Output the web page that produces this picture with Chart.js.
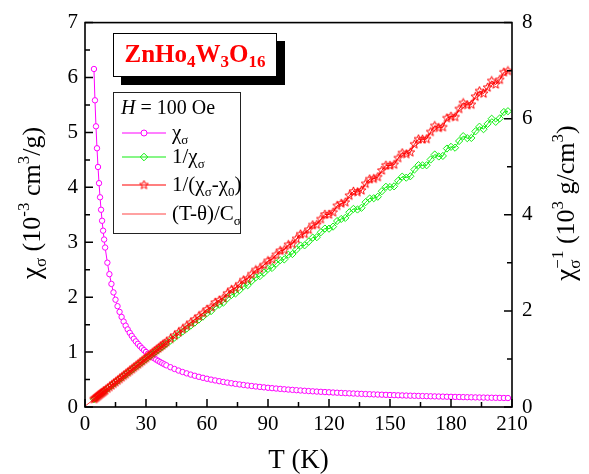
<!DOCTYPE html>
<html>
<head>
<meta charset="utf-8">
<script src="https://cdn.jsdelivr.net/npm/chart.js@4.4.1/dist/chart.umd.min.js"></script>
<style>
  html, body { margin: 0; padding: 0; background: #fff; }
  #wrap { width: 589px; height: 474px; position: relative; }
</style>
</head>
<body>
<div id="wrap"><canvas id="c"></canvas></div>
<script>
// temperature (K)
const T = [4.4,4.9,5.4,5.9,6.4,6.9,7.4,7.9,8.4,8.9,9.4,9.9,
  11,12,13,14,15,16,17,18,19,20,21,22,23,24,25,26,27,28,29,30,31,32,33,34,35,36,37,38,39,40,
  42,44,46,48,50,52,54,56,58,60,62,64,66,68,70,72,74,76,78,80,82,84,86,88,90,92,94,96,98,100,
  102,104,106,108,110,112,114,116,118,120,122,124,126,128,130,132,134,136,138,140,142,144,146,148,150,
  152,154,156,158,160,162,164,166,168,170,172,174,176,178,180,182,184,186,188,190,192,194,196,198,200,
  202,204,206,208];

// chi_sigma (10^-3 cm3/g), left axis
const chi = [6.155,5.585,5.111,4.712,4.371,4.076,3.819,3.592,3.391,3.211,3.050,2.904,
  2.628,2.419,2.241,2.087,1.954,1.836,1.732,1.640,1.556,1.481,1.413,1.351,1.295,1.243,1.195,1.150,1.109,1.071,1.035,1.002,
  0.971,0.941,0.914,0.888,0.863,0.840,0.818,0.798,0.778,0.759,
  0.7243,0.6926,0.6636,0.6371,0.6126,0.5900,0.5691,0.5496,0.5315,0.5145,0.4987,0.4838,0.4699,0.4567,0.4443,0.4326,
  0.4215,0.4110,0.4010,0.3915,0.3825,0.3739,0.3657,0.3579,0.3504,0.3432,0.3364,0.3298,0.3235,0.3175,0.3117,0.3061,
  0.3007,0.2955,0.2905,0.2857,0.2810,0.2765,0.2722,0.2680,0.2639,0.2600,0.2562,0.2525,0.2490,0.2455,0.2421,0.2389,
  0.2357,0.2326,0.2296,0.2267,0.2239,0.2211,0.2185,0.2159,0.2133,0.2108,0.2084,0.2061,0.2038,0.2015,0.1993,0.1972,
  0.1951,0.1931,0.1911,0.1892,0.1873,0.1854,0.1836,0.1818,0.1801,0.1784,0.1767,0.1751,0.1735,0.1719,0.1703,0.1688,
  0.1674,0.1659,0.1645,0.1631];

// 1/chi_sigma (10^3 g/cm3), right axis
const invChi = [0.162,0.179,0.196,0.212,0.229,0.245,0.262,0.278,0.295,0.311,0.328,0.344,
  0.381,0.413,0.446,0.479,0.512,0.545,0.577,0.610,0.643,0.675,0.708,0.740,0.772,0.805,0.837,0.869,0.901,0.934,0.966,0.998,
  1.030,1.062,1.094,1.126,1.158,1.190,1.222,1.253,1.285,1.317,
  1.381,1.444,1.507,1.570,1.632,1.695,1.757,1.820,1.881,
  1.954,1.995,2.087,2.128,2.170,2.261,2.332,2.362,2.433,2.514,2.534,2.624,2.699,2.724,2.794,2.874,2.894,2.983,3.057,3.071,
  3.170,3.183,3.277,3.361,3.364,3.442,3.525,3.534,3.637,3.714,3.711,3.754,3.871,3.913,3.935,4.051,4.123,4.110,4.146,4.263,
  4.339,4.345,4.376,4.491,4.583,4.577,4.592,4.708,4.794,4.773,4.802,4.942,5.033,5.028,5.031,5.151,5.254,5.213,5.225,5.379,
  5.414,5.397,5.536,5.637,5.595,5.599,5.736,5.834,5.782,5.892,5.999,5.934,6.008,6.139,6.156];

// 1/(chi_sigma - chi_0), right axis
const invChiCorr = [0.163,0.180,0.196,0.213,0.230,0.246,0.263,0.280,0.297,0.313,0.330,0.347,
  0.383,0.417,0.450,0.484,0.517,0.550,0.584,0.617,0.651,0.684,0.717,0.751,0.784,0.818,0.851,0.884,0.918,0.951,0.985,1.018,
  1.051,1.085,1.118,1.152,1.185,1.218,1.252,1.285,1.319,1.352,
  1.419,1.486,1.552,1.619,1.686,1.753,1.820,1.886,1.953,
  2.030,2.077,2.174,2.220,2.267,2.364,2.441,2.478,2.554,2.641,2.668,2.765,2.852,2.878,2.955,3.042,3.069,3.166,3.252,3.269,
  3.376,3.393,3.500,3.596,3.603,3.690,3.787,3.794,3.910,4.007,4.004,4.051,4.188,4.234,4.261,4.398,4.485,4.472,4.508,4.645,
  4.742,4.749,4.786,4.922,5.029,5.026,5.043,5.180,5.286,5.263,5.300,5.467,5.574,5.570,5.577,5.724,5.851,5.808,5.824,6.011,
  6.048,6.035,6.202,6.328,6.285,6.292,6.459,6.576,6.522,6.649,6.786,6.713,6.810,6.966,6.993];

// Curie-Weiss fit (T-theta)/C
const fitT = [0, 210];
const fitVal = [0.016, 7.03];

const xTicks = [0, 30, 60, 90, 120, 150, 180, 210];

const SERIF = '"Liberation Serif", serif';
const MAGENTA = '#ff00ff', GREEN = '#11ee11', RED = '#ff0000', FITRED = '#ff4444';

function makeStar(color) {
  const c = document.createElement('canvas');
  c.width = 11; c.height = 11;
  const g = c.getContext('2d');
  g.strokeStyle = color;
  g.lineWidth = 1;
  g.beginPath();
  for (let i = 0; i < 10; i++) {
    const r = i % 2 ? 2 : 4.6;
    const a = -Math.PI / 2 + i * Math.PI / 5;
    const px = 5.5 + r * Math.cos(a), py = 5.5 + r * Math.sin(a);
    if (i) g.lineTo(px, py); else g.moveTo(px, py);
  }
  g.closePath();
  g.stroke();
  return c;
}
const star = makeStar(RED);

const pts = (xs, ys) => xs.map((x, i) => ({ x: x, y: ys[i] }));

function fontOf(r) {
  return (r.f ? r.f + ' ' : '') + r.s + 'px ' + SERIF;
}
// rich text: runs of {t, s, dy, f, keep}
function drawRich(ctx, runs, x, y) {
  let cx = x, pending = 0;
  runs.forEach(r => {
    ctx.font = fontOf(r);
    const w = ctx.measureText(r.t).width;
    ctx.fillText(r.t, cx, y + (r.dy || 0));
    if (r.keep) { pending = w; }
    else { cx += Math.max(w, pending); pending = 0; }
  });
  return cx - x;
}
function richWidth(ctx, runs) {
  let w = 0, pending = 0;
  runs.forEach(r => {
    ctx.font = fontOf(r);
    const m = ctx.measureText(r.t).width;
    if (r.keep) pending = m; else { w += Math.max(m, pending); pending = 0; }
  });
  return w;
}

const decor = {
  id: 'decor',
  afterDraw(chart) {
    const ctx = chart.ctx;
    const { left, right, top, bottom } = chart.chartArea;
    const xs = chart.scales.x, ys = chart.scales.y, y1 = chart.scales.y1;
    ctx.save();
    ctx.strokeStyle = '#000';
    ctx.fillStyle = '#000';

    // inward ticks
    ctx.lineWidth = 1.5;
    ctx.beginPath();
    for (let v = 0; v <= 210; v += 15) {
      const px = xs.getPixelForValue(v);
      const len = v % 30 === 0 ? 8 : 5;
      ctx.moveTo(px, bottom); ctx.lineTo(px, bottom - len);
    }
    for (let v = 0; v <= 7; v += 0.5) {
      const py = ys.getPixelForValue(v);
      const len = v % 1 === 0 ? 8 : 5;
      ctx.moveTo(left, py); ctx.lineTo(left + len, py);
    }
    for (let v = 0; v <= 8; v += 1) {
      const py = y1.getPixelForValue(v);
      const len = v % 2 === 0 ? 8 : 5;
      ctx.moveTo(right, py); ctx.lineTo(right - len, py);
    }
    ctx.stroke();

    // frame
    ctx.lineWidth = 1.6;
    ctx.strokeRect(left, top, right - left, bottom - top);

    // axis titles
    ctx.textBaseline = 'alphabetic';
    ctx.font = '27px ' + SERIF;
    ctx.textAlign = 'center';
    ctx.fillText('T (K)', (left + right) / 2, 468);
    ctx.textAlign = 'left';

    const leftTitle = [
      { t: 'χ', s: 27 }, { t: 'σ', s: 17, dy: 6 },
      { t: ' (10', s: 26 }, { t: '-3', s: 17, dy: -11 },
      { t: ' cm', s: 26 }, { t: '3', s: 17, dy: -11 }, { t: '/g)', s: 26 }
    ];
    ctx.save();
    ctx.translate(40, 203);
    ctx.rotate(-Math.PI / 2);
    drawRich(ctx, leftTitle, -richWidth(ctx, leftTitle) / 2, 0);
    ctx.restore();

    const rightTitle = [
      { t: 'χ', s: 27 }, { t: '−1', s: 17, dy: -11, keep: true }, { t: 'σ', s: 17, dy: 6 },
      { t: ' (10', s: 26 }, { t: '3', s: 17, dy: -11 },
      { t: ' g/cm', s: 26 }, { t: '3', s: 17, dy: -11 }, { t: ')', s: 26 }
    ];
    ctx.save();
    ctx.translate(574, 203);
    ctx.rotate(-Math.PI / 2);
    drawRich(ctx, rightTitle, -richWidth(ctx, rightTitle) / 2, 0);
    ctx.restore();

    // compound title box with shadow
    ctx.fillStyle = '#000';
    ctx.fillRect(121, 41, 164, 44);
    ctx.fillStyle = '#fff';
    ctx.fillRect(113, 33, 164, 44);
    ctx.lineWidth = 1;
    ctx.strokeRect(113.5, 33.5, 163, 43);
    ctx.fillStyle = RED;
    const formula = [
      { t: 'ZnHo', s: 25, f: 'bold' }, { t: '4', s: 17, f: 'bold', dy: 5 },
      { t: 'W', s: 25, f: 'bold' }, { t: '3', s: 17, f: 'bold', dy: 5 },
      { t: 'O', s: 25, f: 'bold' }, { t: '16', s: 17, f: 'bold', dy: 5 }
    ];
    drawRich(ctx, formula, 195 - richWidth(ctx, formula) / 2, 62);

    // legend box
    ctx.fillStyle = '#fff';
    ctx.fillRect(113, 92, 127, 141);
    ctx.strokeStyle = '#222';
    ctx.lineWidth = 1;
    ctx.strokeRect(113.5, 92.5, 127, 141);
    ctx.fillStyle = '#000';
    drawRich(ctx, [{ t: 'H', s: 20, f: 'italic' }, { t: ' = 100 Oe', s: 20 }], 121, 114);

    const rows = [
      { y: 133, color: MAGENTA, style: 'circle', r: 3, bg: '#fff',
        text: [{ t: 'χ', s: 21 }, { t: 'σ', s: 13, dy: 5 }] },
      { y: 157, color: GREEN, style: 'rectRot', r: 3.8, bg: 'rgba(0,0,0,0)',
        text: [{ t: '1/χ', s: 21 }, { t: 'σ', s: 13, dy: 5 }] },
      { y: 185, color: RED, style: star, r: 4, bg: 'rgba(0,0,0,0)',
        text: [{ t: '1/(χ', s: 21 }, { t: 'σ', s: 13, dy: 5 }, { t: '-χ', s: 21 }, { t: '0', s: 13, dy: 5 }, { t: ')', s: 21 }] },
      { y: 214, color: FITRED, style: null,
        text: [{ t: '(T-θ)/C', s: 21 }, { t: 'σ', s: 13, dy: 5 }] }
    ];
    rows.forEach(row => {
      ctx.strokeStyle = row.color;
      ctx.lineWidth = 1.2;
      ctx.beginPath();
      ctx.moveTo(122, row.y); ctx.lineTo(166, row.y);
      ctx.stroke();
      if (row.style) {
        ctx.fillStyle = row.bg;
        ctx.strokeStyle = row.color;
        ctx.lineWidth = 1;
        Chart.helpers.drawPoint(ctx, { pointStyle: row.style, radius: row.r, rotation: 0, borderWidth: 1 }, 144, row.y);
      }
      ctx.fillStyle = '#000';
      drawRich(ctx, row.text, 172, row.y + 6);
    });

    ctx.restore();
  }
};

const tickFont = { family: SERIF, size: 21 };

function build() {
  new Chart(document.getElementById('c'), {
    type: 'scatter',
    data: {
      datasets: [
        {
          label: '1/(χσ-χ0)',
          data: pts(T, invChiCorr),
          yAxisID: 'y1',
          showLine: true,
          borderColor: RED,
          borderWidth: 1,
          pointStyle: star,
          pointRadius: 4,
          pointBorderColor: RED,
          pointBackgroundColor: 'rgba(0,0,0,0)'
        },
        {
          label: '(T-θ)/Cσ',
          data: pts(fitT, fitVal),
          yAxisID: 'y1',
          showLine: true,
          borderColor: FITRED,
          borderWidth: 1,
          pointRadius: 0
        },
        {
          label: '1/χσ',
          data: pts(T, invChi),
          yAxisID: 'y1',
          showLine: true,
          borderColor: GREEN,
          borderWidth: 1,
          pointStyle: 'rectRot',
          pointRadius: 3.6,
          pointBorderWidth: 1,
          pointBorderColor: GREEN,
          pointBackgroundColor: 'rgba(0,0,0,0)'
        },
        {
          label: 'χσ',
          data: pts(T, chi),
          yAxisID: 'y',
          showLine: true,
          borderColor: MAGENTA,
          borderWidth: 1,
          pointStyle: 'circle',
          pointRadius: 2.7,
          pointBorderWidth: 1,
          pointBorderColor: MAGENTA,
          pointBackgroundColor: '#fff'
        }
      ]
    },
    options: {
      responsive: true,
      maintainAspectRatio: false,
      devicePixelRatio: 1,
      animation: false,
      layout: { padding: { top: 19, left: 0, right: 0, bottom: 0 } },
      plugins: { legend: { display: false }, tooltip: { enabled: false } },
      scales: {
        x: {
          type: 'linear', min: 0, max: 210,
          afterBuildTicks: s => { s.ticks = xTicks.map(v => ({ value: v })); },
          afterFit: s => { s.height = 67; },
          ticks: { font: tickFont, color: '#000', padding: 5, maxRotation: 0, autoSkip: false },
          grid: { display: false, drawTicks: false },
          border: { display: false }
        },
        y: {
          position: 'left', min: 0, max: 7,
          afterFit: s => { s.width = 85; },
          ticks: { stepSize: 1, font: tickFont, color: '#000', padding: 7 },
          grid: { display: false, drawTicks: false },
          border: { display: false }
        },
        y1: {
          position: 'right', min: 0, max: 8,
          afterFit: s => { s.width = 77; },
          ticks: { stepSize: 2, font: tickFont, color: '#000', padding: 10 },
          grid: { display: false, drawTicks: false },
          border: { display: false }
        }
      }
    },
    plugins: [decor]
  });
}

Promise.all([
  document.fonts.load('21px "Liberation Serif"', 'T (K) 0123'),
  document.fonts.load('italic 20px "Liberation Serif"', 'H'),
  document.fonts.load('bold 25px "Liberation Serif"', 'ZnHo')
]).then(build, build);
</script>
</body>
</html>
